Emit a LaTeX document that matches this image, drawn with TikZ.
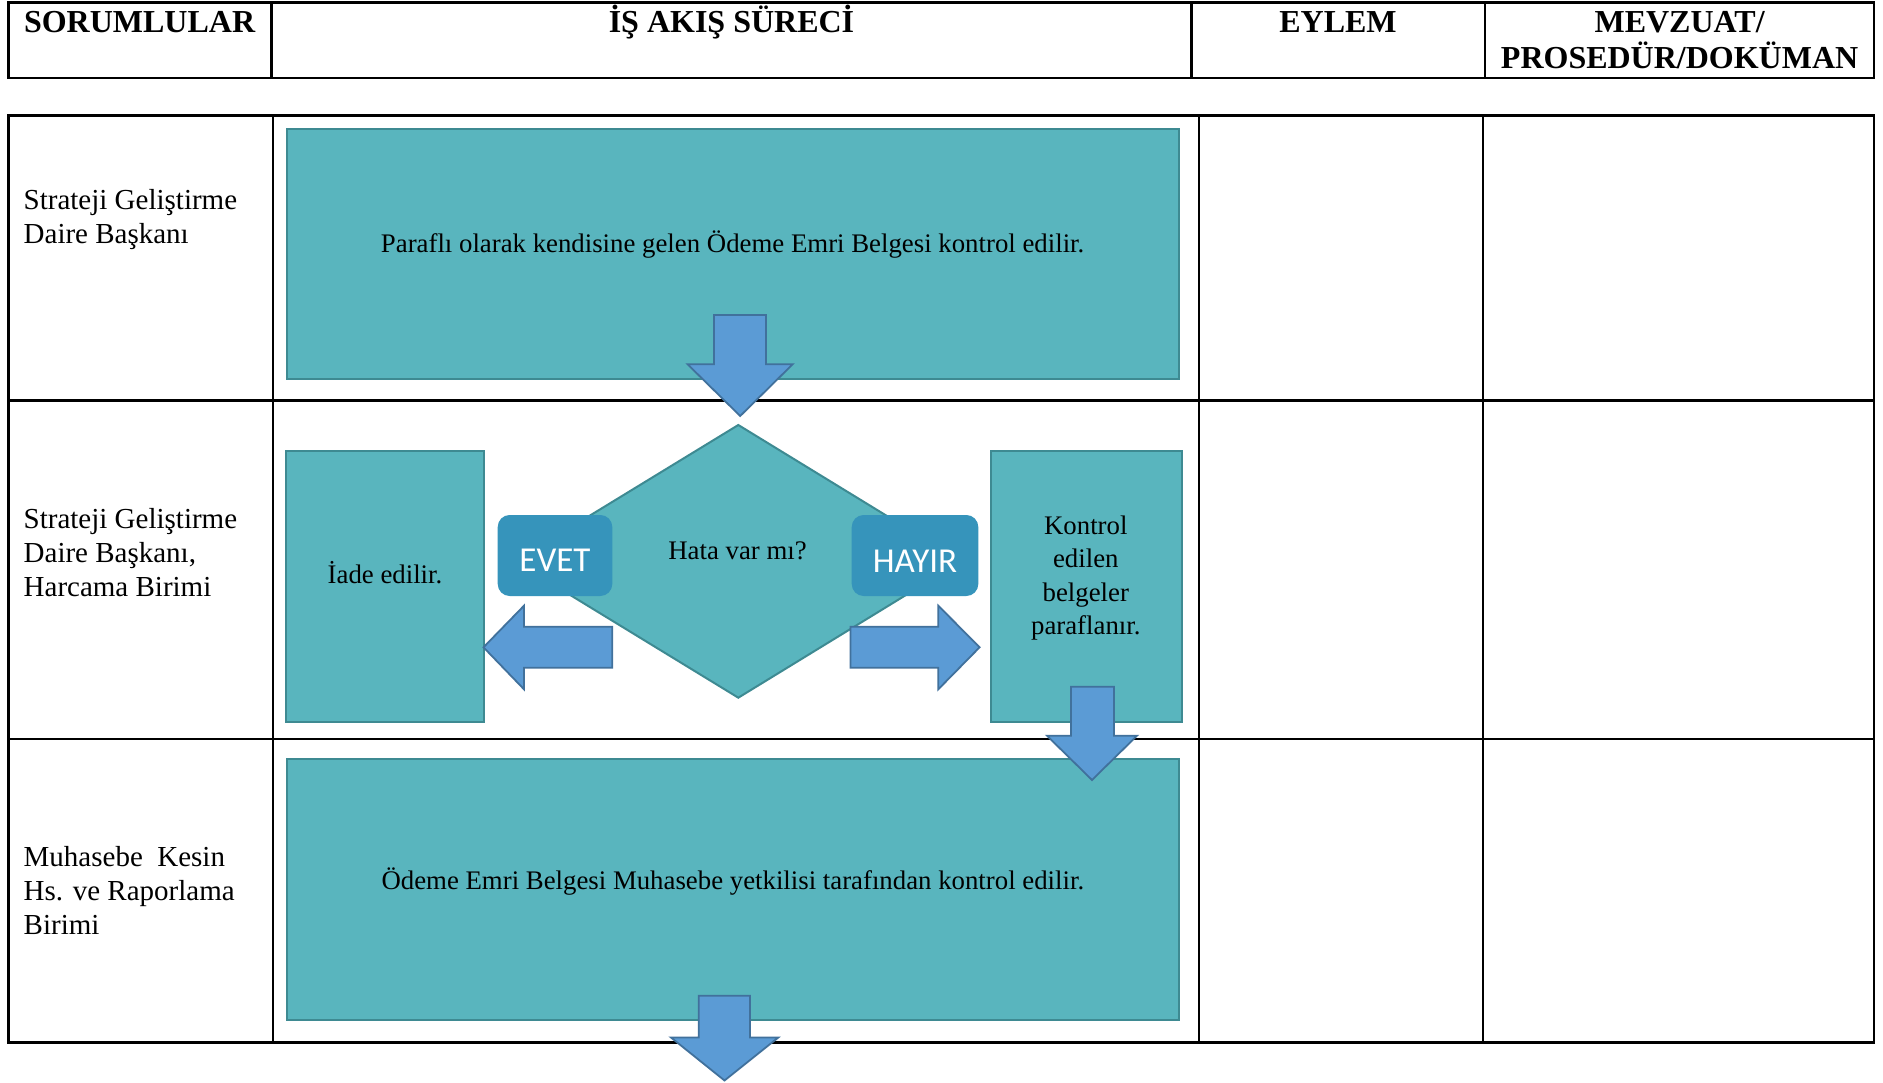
\documentclass[tikz,border=0pt]{standalone}
\usepackage{fontspec}
\setmainfont{Liberation Serif}
\newfontfamily\calib{Carlito}
\definecolor{tealfill}{RGB}{89,181,190}
\definecolor{tealline}{RGB}{62,138,146}
\definecolor{arrfill}{RGB}{91,155,213}
\definecolor{arrline}{RGB}{65,113,156}
\definecolor{yesno}{RGB}{54,148,187}
\begin{document}
\begin{tikzpicture}[x=1pt,y=-1pt,
  grid/.style={line width=2.5pt,draw=black},
  flowbox/.style={draw=tealline,line width=2pt,fill=tealfill},
  blockarrow/.style={draw=arrline,line width=1.8pt,fill=arrfill,line join=miter},
  answer/.style={fill=yesno,rounded corners=12pt},
  answertxt/.style={inner sep=0pt,text=white,font=\calib\fontsize{35}{40}\selectfont},
  headtxt/.style={inner sep=0pt,align=center,font=\bfseries\fontsize{32}{36}\selectfont},
  roletxt/.style={inner sep=0pt,align=left,anchor=base west,font=\fontsize{29}{34}\selectfont},
  flowtxt/.style={inner sep=0pt,align=center,anchor=base,font=\fontsize{26.8}{33.3}\selectfont}]
\useasboundingbox (0,0) rectangle (1883,1083);
\fill[white] (0,0) rectangle (1883,1083);

% header table
\draw[grid] (8.4,2.7) rectangle (1874,78);
\draw[grid] (271.6,2.7) -- (271.6,78) (1191.4,2.7) -- (1191.4,78) (1484.8,2.7) -- (1484.8,78);
\node[headtxt,anchor=base] (h1) at (139.6,32.3) {SORUMLULAR};
\node[headtxt,anchor=base] (h2) at (731.5,32.3) {İŞ AKIŞ SÜRECİ};
\node[headtxt,anchor=base] (h3) at (1338,32.3) {EYLEM};
\node[headtxt,anchor=base] (h4) at (1679.6,68.3) {MEVZUAT/\\PROSEDÜR/DOKÜMAN};

% main table
\draw[grid] (8.4,115.3) rectangle (1874,1042.5);
\draw[grid] (8.4,400.7) -- (1874,400.7) (8.4,739) -- (1874,739);
\draw[grid] (272.8,115.3) -- (272.8,1042.5) (1199.2,115.3) -- (1199.2,1042.5) (1483,115.3) -- (1483,1042.5);

% role texts (anchor = baseline of last line)
\node[roletxt] (r1) at (23.5,243.5) {Strateji Geliştirme\\Daire Başkanı};
\node[roletxt] (r2) at (23.5,596.7) {Strateji Geliştirme\\Daire Başkanı,\\Harcama Birimi};
\node[roletxt] (r3) at (23.5,934) {Muhasebe\ \ Kesin\\Hs. ve Raporlama\\Birimi};

% flow boxes
\draw[flowbox] (286.6,129) rectangle (1178.7,379);
\node[flowtxt] (t1) at (732.6,253) {Paraflı olarak kendisine gelen Ödeme Emri Belgesi kontrol edilir.};

\draw[flowbox] (286.3,451) rectangle (484,721.7);
\node[flowtxt] (t2) at (385,583.3) {İade edilir.};

\draw[flowbox] (738.3,425) -- (961,561.3) -- (738.3,697.7) -- (515,561.3) -- cycle;
\node[flowtxt] (t3) at (737.5,559.3) {Hata var mı?};

\draw[flowbox] (991,451) rectangle (1181.7,721.7);
\node[flowtxt] (t4) at (1085.8,634.3) {Kontrol\\edilen\\belgeler\\paraflanır.};

\draw[flowbox] (287,759.1) rectangle (1178.5,1020);
\node[flowtxt] (t5) at (732.8,889.3) {Ödeme Emri Belgesi Muhasebe yetkilisi tarafından kontrol edilir.};

% answer boxes
\path[answer] (497.7,515) rectangle (612.3,596);
\node[answertxt,anchor=base] (yes) at (555,571.7) {EVET};
\path[answer] (851.7,515) rectangle (978.3,596);
\node[answertxt,anchor=base] (no) at (915,572.7) {HAYIR};

% block arrows
\draw[blockarrow] (714,315) -- (766,315) -- (766,364.3) -- (792.6,364.3) -- (740.2,416) -- (687.6,364.3) -- (714,364.3) -- cycle;
\draw[blockarrow] (612.2,626.7) -- (524,626.7) -- (524,605.7) -- (483.5,647.3) -- (524,689.3) -- (524,667.7) -- (612.2,667.7) -- cycle;
\draw[blockarrow] (850.5,626.7) -- (938.3,626.7) -- (938.3,605.7) -- (979.6,647.3) -- (938.3,689.3) -- (938.3,667.7) -- (850.5,667.7) -- cycle;
\draw[blockarrow] (1071,686.7) -- (1114,686.7) -- (1114,735.7) -- (1137,735.7) -- (1092,780) -- (1047,735.7) -- (1071,735.7) -- cycle;
\draw[blockarrow] (698.7,995.7) -- (750,995.7) -- (750,1037.5) -- (778.3,1037.5) -- (724.5,1080.5) -- (671,1037.5) -- (698.7,1037.5) -- cycle;
\end{tikzpicture}
\end{document}
